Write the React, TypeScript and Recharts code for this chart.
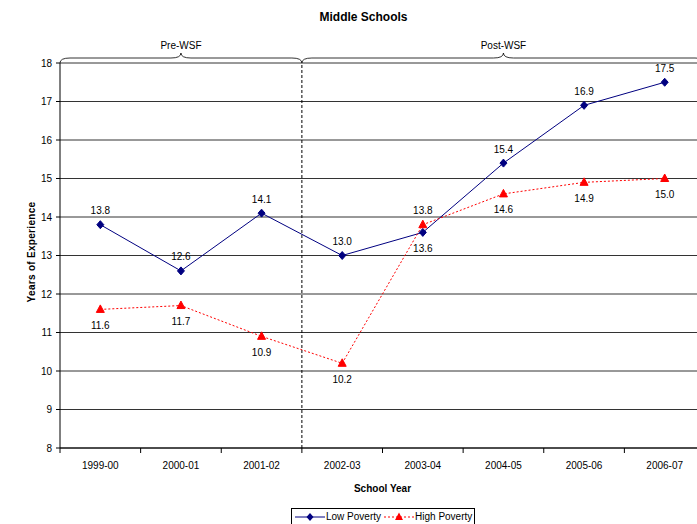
import { LineChart, Line, XAxis, YAxis, CartesianGrid, ReferenceLine, ReferenceArea, LabelList } from "recharts";

const years = ["1999-00", "2000-01", "2001-02", "2002-03", "2003-04", "2004-05", "2005-06", "2006-07"];
const lowPoverty = [13.8, 12.6, 14.1, 13.0, 13.6, 15.4, 16.9, 17.5];
const highPoverty = [11.6, 11.7, 10.9, 10.2, 13.8, 14.6, 14.9, 15.0];
const yTicks = [8, 9, 10, 11, 12, 13, 14, 15, 16, 17, 18];
// years where the low-poverty label sits under the point (and high-poverty above)
const swapLabels = ["2003-04"];

const data = years.map((year, i) => ({ year, low: lowPoverty[i], high: highPoverty[i] }));

const FONT = "'Liberation Sans', Arial, sans-serif";
const NAVY = "#000080";
const RED = "#ff0000";

const Diamond = (props: any) => {
  const { cx, cy } = props;
  if (cx == null || cy == null) return null;
  return <polygon points={`${cx},${cy - 4} ${cx + 3.5},${cy} ${cx},${cy + 4} ${cx - 3.5},${cy}`} fill={NAVY} stroke={NAVY} />;
};

const Triangle = (props: any) => {
  const { cx, cy } = props;
  if (cx == null || cy == null) return null;
  return <polygon points={`${cx},${cy - 4.5} ${cx + 4},${cy + 3} ${cx - 4},${cy + 3}`} fill={RED} stroke={RED} />;
};

const makeLabel = (above: boolean) => (props: any) => {
  const { x, y, value, index } = props;
  const swap = swapLabels.includes(years[index]);
  const up = swap ? !above : above;
  return (
    <text x={x} y={up ? y - 14 : y + 16} textAnchor="middle" dominantBaseline="central" fontSize={10} fontFamily={FONT} fill="#000">
      {value.toFixed(1)}
    </text>
  );
};

// category label with tick marks on the band edges
const YearTick = (props: any) => {
  const { x, y, payload, index } = props;
  const half = payload.offset || 0;
  const top = y - 12;
  return (
    <g>
      <line x1={x - half} y1={top} x2={x - half} y2={top + 5} stroke="#000" />
      {index === years.length - 1 && <line x1={x + half} y1={top} x2={x + half} y2={top + 5} stroke="#000" />}
      <text x={x} y={y + 5} textAnchor="middle" dominantBaseline="central" fontSize={10} fontFamily={FONT} fill="#000">
        {payload.value}
      </text>
    </g>
  );
};

const Brace = (label: string) => (props: any) => {
  const { x, y, width } = props;
  const x1 = x;
  const x2 = x + width;
  const mid = (x1 + x2) / 2;
  const h = y - 5;
  const tip = y - 10;
  const d = `M${x1},${y} Q${x1},${h} ${x1 + 10},${h} L${mid - 10},${h} Q${mid},${h} ${mid},${tip} Q${mid},${h} ${mid + 10},${h} L${x2 - 10},${h} Q${x2},${h} ${x2},${y}`;
  return (
    <g>
      <path d={d} fill="none" stroke="#000" strokeWidth={0.8} />
      <text x={mid} y={tip - 8} textAnchor="middle" dominantBaseline="central" fontSize={10} fontFamily={FONT} fill="#000">
        {label}
      </text>
    </g>
  );
};

const YLabel = () => (
  <text x={31} y={252} transform="rotate(-90 31 252)" textAnchor="middle" dominantBaseline="central" fontSize={10} fontWeight="bold" letterSpacing={0.3} fontFamily={FONT} fill="#000">
    Years of Experience
  </text>
);

export default function App() {
  return (
    <div style={{ position: "absolute", left: 0, top: 0, width: 697, height: 524, overflow: "hidden", background: "#fff" }}>
      <div style={{ position: "absolute", left: 0, top: 17, width: 727, textAlign: "center", fontFamily: FONT, fontSize: 12, fontWeight: "bold", lineHeight: "0px" }}>
        Middle Schools
      </div>
      <LineChart width={712} height={524} data={data} margin={{ top: 63, right: 7, bottom: 0, left: 0 }}>
        <CartesianGrid vertical={false} stroke="#333" strokeOpacity={1} />
        <XAxis
          dataKey="year"
          scale="band"
          height={76}
          stroke="#000"
          tickLine={false}
          tickSize={0}
          tickMargin={12}
          interval={0}
          tick={<YearTick />}
          label={{ value: "School Year", position: "insideBottom", offset: 32, fontSize: 10, fontWeight: "bold", fontFamily: FONT, fill: "#000" }}
        />
        <YAxis
          domain={[8, 18]}
          ticks={yTicks}
          width={60}
          tickSize={4}
          tickMargin={4}
          stroke="#000"
          tick={{ fontSize: 10, fontFamily: FONT, fill: "#000" }}
          label={<YLabel />}
        />
        <ReferenceArea x1="1999-00" x2="2001-02" y1={8} y2={18} ifOverflow="visible" shape={Brace("Pre-WSF")} />
        <ReferenceArea x1="2002-03" x2="2006-07" y1={8} y2={18} ifOverflow="visible" shape={Brace("Post-WSF")} />
        <ReferenceLine x="2002-03" position="start" stroke="#000" strokeDasharray="3 2" />
        <Line
          dataKey="low"
          stroke={NAVY}
          strokeWidth={1}
          dot={<Diamond />}
          isAnimationActive={false}
        >
          <LabelList dataKey="low" content={makeLabel(true)} />
        </Line>
        <Line
          dataKey="high"
          stroke={RED}
          strokeWidth={1}
          strokeDasharray="2 2"
          dot={<Triangle />}
          isAnimationActive={false}
        >
          <LabelList dataKey="high" content={makeLabel(false)} />
        </Line>
      </LineChart>
      <div
        style={{
          position: "absolute",
          left: 291,
          top: 508,
          width: 184,
          height: 20,
          border: "1px solid #000",
          boxSizing: "border-box",
          fontFamily: FONT,
          fontSize: 10,
          display: "flex",
          alignItems: "center",
          whiteSpace: "nowrap",
          paddingBottom: 3,
        }}
      >
        <svg width={30} height={12} style={{ marginLeft: 3, flex: "none" }}>
          <line x1={0} y1={6} x2={30} y2={6} stroke={NAVY} />
          <polygon points="15,2 18.5,6 15,10 11.5,6" fill={NAVY} />
        </svg>
        <span style={{ marginLeft: 1 }}>Low Poverty</span>
        <svg width={30} height={12} style={{ marginLeft: 3, flex: "none" }}>
          <line x1={0} y1={6} x2={30} y2={6} stroke={RED} strokeDasharray="2 2" />
          <polygon points="15,1.5 19,9 11,9" fill={RED} />
        </svg>
        <span style={{ marginLeft: 1 }}>High Poverty</span>
      </div>
    </div>
  );
}
